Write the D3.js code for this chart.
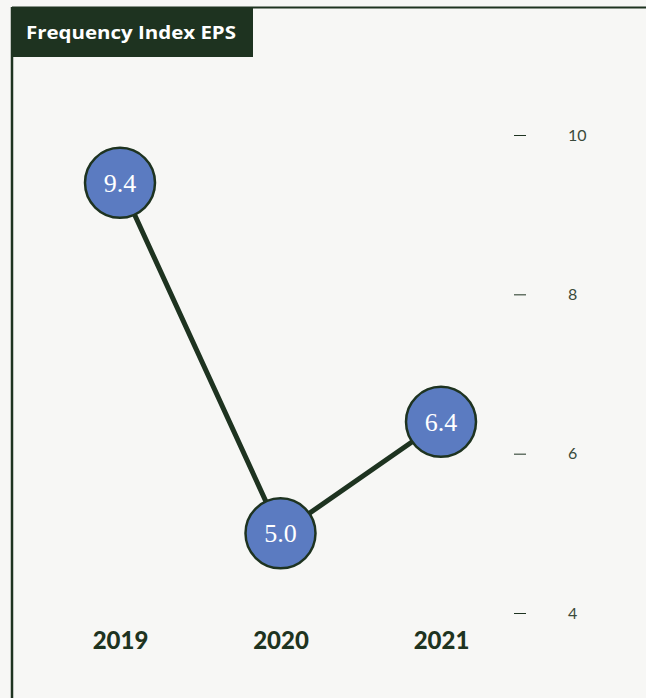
<!DOCTYPE html>
<html>
<head>
<meta charset="utf-8">
<script src="https://cdn.jsdelivr.net/npm/d3@7"></script>
<style>
  html, body { margin: 0; padding: 0; background: #f7f7f5; }
  svg { display: block; }
</style>
</head>
<body>
<svg id="chart" width="646" height="698"></svg>
<script>
// Frequency index EPS by year
const years = ["2019", "2020", "2021"];
const values = [9.4, 5.0, 6.4];
const valueLabels = ["9.4", "5.0", "6.4"];
const yTicks = [4, 6, 8, 10];
const title = "Frequency Index EPS";

const dark = "#1e3320";
const dotFill = "#5b7bc1";

const svg = d3.select("#chart");
const W = 646, H = 698;

svg.append("rect").attr("width", W).attr("height", H).attr("fill", "#f7f7f5");

// frame: top rule and left rule
svg.append("line").attr("x1", 12).attr("x2", W).attr("y1", 7.5).attr("y2", 7.5)
  .attr("stroke", dark).attr("stroke-width", 2);
svg.append("line").attr("x1", 12).attr("x2", 12).attr("y1", 7).attr("y2", H)
  .attr("stroke", dark).attr("stroke-width", 2.5);

// title tab
svg.append("rect").attr("x", 11).attr("y", 7).attr("width", 242).attr("height", 50).attr("fill", dark);
svg.append("text").attr("x", 26).attr("y", 38.5)
  .attr("font-family", "'Open Sans', Lato, sans-serif").attr("font-weight", 700)
  .attr("font-size", 18).attr("textLength", 210).attr("lengthAdjust", "spacingAndGlyphs")
  .attr("fill", "#ffffff").text(title);

const x = d3.scalePoint().domain(years).range([120, 441]);
const y = d3.scaleLinear().domain([4, 10]).range([613, 135]);

// right-hand value axis
const axis = d3.axisRight(y).tickValues(yTicks).tickSize(0).tickPadding(0).tickFormat(d3.format("d"));
const ag = svg.append("g").attr("transform", "translate(514,0)").call(axis);
ag.select(".domain").remove();
ag.selectAll(".tick line").attr("x1", 0).attr("x2", 12).attr("stroke", dark).attr("stroke-width", 1);
ag.selectAll(".tick text").attr("x", 54).attr("dy", "0.32em")
  .attr("font-family", "Lato, sans-serif").attr("font-size", 16).attr("fill", "#3a4a3a");

// year labels
const xa = d3.axisBottom(x).tickSize(0).tickPadding(0);
const xg = svg.append("g").attr("transform", "translate(0,632)").call(xa);
xg.select(".domain").remove();
xg.selectAll(".tick text").attr("dy", "0.71em")
  .attr("font-family", "Lato, sans-serif").attr("font-weight", 900)
  .attr("font-size", 24).attr("fill", dark);

const pts = years.map((yr, i) => ({ yr, v: values[i], label: valueLabels[i] }));

svg.append("path").datum(pts)
  .attr("d", d3.line().x(d => x(d.yr)).y(d => y(d.v)))
  .attr("fill", "none").attr("stroke", dark).attr("stroke-width", 5);

const g = svg.selectAll(".pt").data(pts).enter().append("g")
  .attr("transform", d => `translate(${x(d.yr)},${y(d.v)})`);
g.append("circle").attr("r", 35).attr("fill", dotFill).attr("stroke", dark).attr("stroke-width", 2.5);
g.append("text").attr("text-anchor", "middle").attr("dy", "0.35em")
  .attr("font-family", "'Liberation Serif', 'DejaVu Serif', serif")
  .attr("font-size", 26).attr("fill", "#ffffff").text(d => d.label);
</script>
</body>
</html>
